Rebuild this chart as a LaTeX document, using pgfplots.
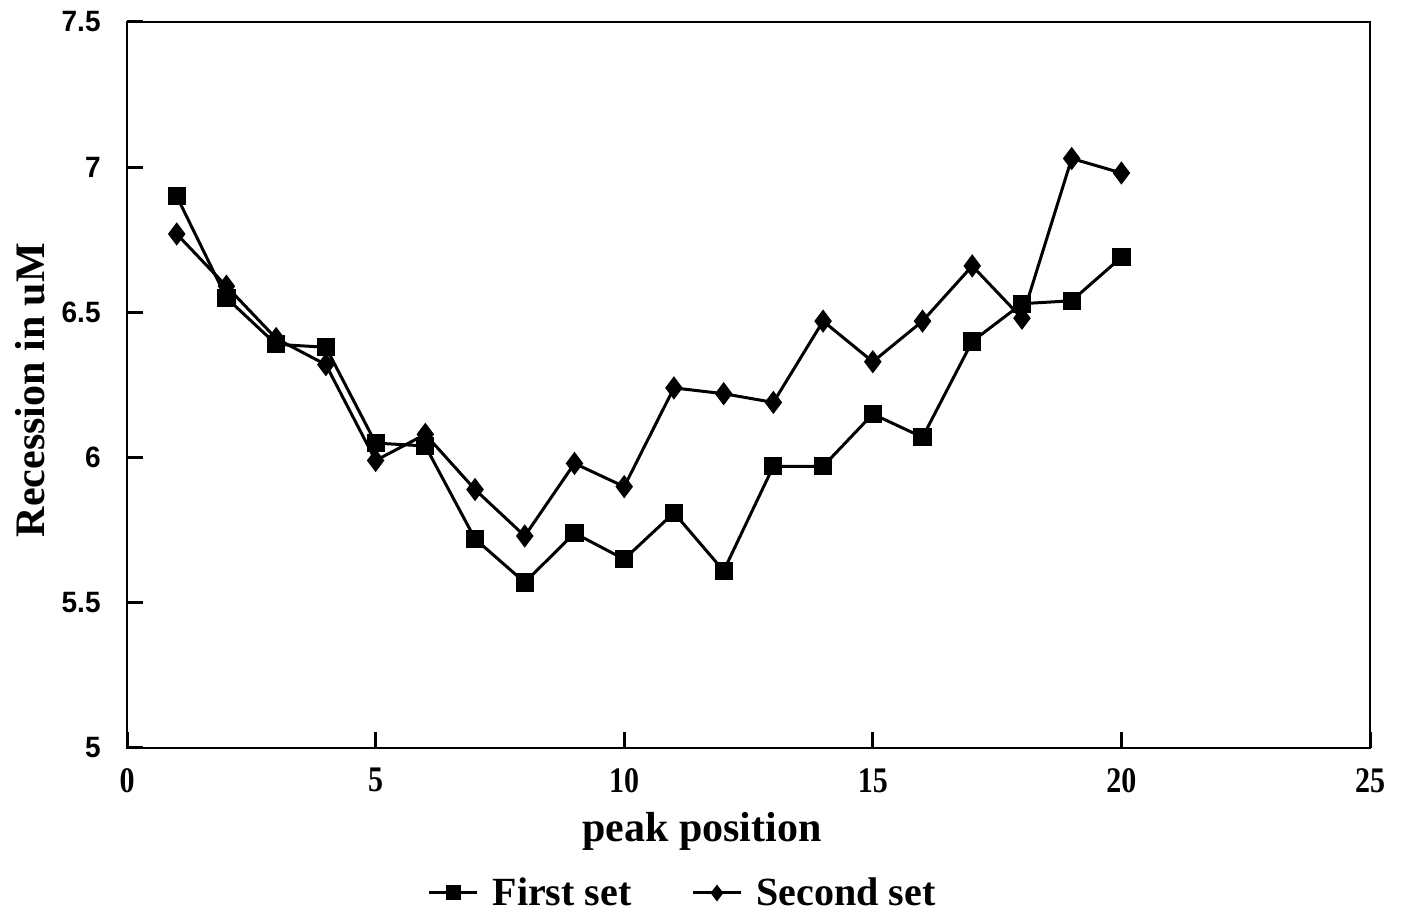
\documentclass[border=0pt]{standalone}
\usepackage{pgfplots}
\pgfplotsset{compat=1.18}
\usepackage{graphicx}
\usepackage{fontspec}
\setmainfont{Liberation Serif}
\newfontfamily\ticksans{Liberation Sans}

% Recession measured at each peak position, two runs
\pgfplotstableread{
x y
1 6.90
2 6.55
3 6.39
4 6.38
5 6.05
6 6.04
7 5.72
8 5.57
9 5.74
10 5.65
11 5.81
12 5.61
13 5.97
14 5.97
15 6.15
16 6.07
17 6.40
18 6.53
19 6.54
20 6.69
}\firstset
\pgfplotstableread{
x y
1 6.77
2 6.59
3 6.41
4 6.32
5 5.99
6 6.08
7 5.89
8 5.73
9 5.98
10 5.90
11 6.24
12 6.22
13 6.19
14 6.47
15 6.33
16 6.47
17 6.66
18 6.48
19 7.03
20 6.98
}\secondset

\newcommand{\xt}[1]{\scalebox{1}[1.2]{#1}}
\newcommand{\yt}[1]{\scalebox{1}[1.05]{#1}}

\begin{document}
\begin{tikzpicture}
\path[use as bounding box] (0,0) rectangle (702.5bp,460.5bp);
\begin{axis}[
  at={(63.5bp,86.5bp)}, anchor=south west,
  scale only axis, width=621.5bp, height=363bp,
  xmin=0, xmax=25, ymin=5, ymax=7.5,
  axis line style={line width=1bp},
  xtick pos=left, ytick pos=left,
  tick align=inside,
  major tick length=8bp,
  every tick/.style={black, line width=1.5bp},
  xtick={0,5,10,15,20,25},
  xticklabels={\xt{0},\xt{5},\xt{10},\xt{15},\xt{20},\xt{25}},
  ytick={5,5.5,6,6.5,7,7.5},
  yticklabels={\yt{5},\yt{5.5},\yt{6},\yt{6.5},\yt{7},\yt{7.5}},
  xticklabel style={font=\bfseries\fontsize{15bp}{15bp}\selectfont, inner sep=0pt, anchor=north, yshift=-10bp},
  yticklabel style={font=\ticksans\bfseries\fontsize{14bp}{14bp}\selectfont, inner sep=0pt, anchor=east, xshift=-13bp},
  xlabel={peak position},
  ylabel={Recession in uM},
  xlabel style={font=\bfseries\fontsize{21bp}{21bp}\selectfont, inner sep=0pt,
    at={(axis description cs:0.4626,0)}, anchor=north, yshift=-32bp},
  ylabel style={font=\bfseries\fontsize{21bp}{21bp}\selectfont, inner sep=0pt,
    at={(axis description cs:-0.078,0.493)}, anchor=center},
  legend columns=2,
  legend style={draw=none, fill=none, font=\bfseries\fontsize{20bp}{20bp}\selectfont,
    at={(axis description cs:0.4477,-0.1997)}, anchor=center,
    /tikz/every odd column/.append style={column sep=5bp},
    /tikz/every even column/.append style={column sep=28bp}},
  legend image code/.code={
    \draw[mark repeat=2, mark phase=2, mark size=3bp]
      plot coordinates {(0bp,0bp) (12bp,0bp) (24bp,0bp)};},
]
\addplot[black, line width=1.5bp, mark=square*, mark size=3.8bp] table[x=x,y=y] {\firstset};
\addlegendentry{First set}
\addplot[black, line width=1.5bp, mark=diamond*, mark size=4.6bp] table[x=x,y=y] {\secondset};
\addlegendentry{Second set}
\end{axis}
\end{tikzpicture}
\end{document}
